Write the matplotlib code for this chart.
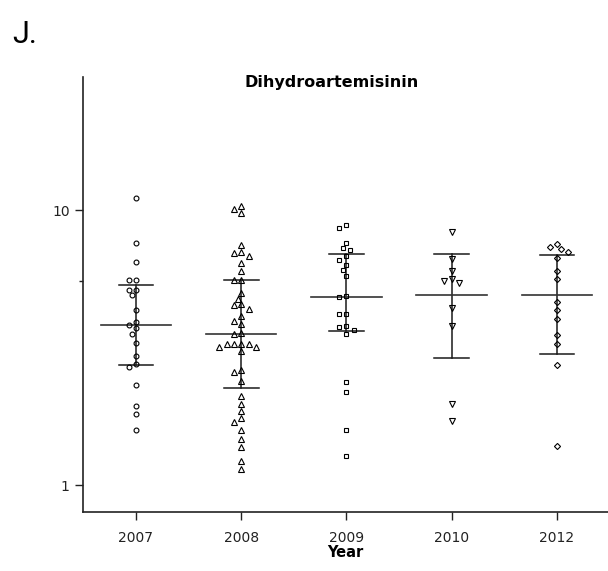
import numpy as np
import matplotlib
matplotlib.use("Agg")
import matplotlib.pyplot as plt
from matplotlib.ticker import FixedLocator, NullFormatter

# ---------------- data ----------------
years = ["2007", "2008", "2009", "2010", "2012"]

v2007 = [11.1, 7.6, 6.49, 5.56, 5.56, 5.12, 5.12, 4.91, 4.32, 3.91, 3.83,
         3.71, 3.53, 3.28, 2.94, 2.75, 2.69, 2.31, 1.94, 1.82, 1.585]
v2008 = [10.37, 10.06, 9.73, 7.46, 7.05, 6.99, 6.82, 6.40, 6.01, 5.56, 5.56,
         4.98, 4.75, 4.55, 4.50, 4.38, 4.12, 3.96, 3.85, 3.58, 3.54, 3.27,
         3.27, 3.27, 3.27, 3.18, 3.17, 3.06, 2.62, 2.58, 2.39, 2.11, 1.97,
         1.86, 1.76, 1.69, 1.58, 1.47, 1.37, 1.22, 1.14]
v2009 = [8.84, 8.58, 7.61, 7.28, 7.16, 6.82, 6.58, 6.31, 6.05, 5.75, 4.86,
         4.82, 4.18, 4.18, 3.79, 3.75, 3.66, 3.54, 2.36, 2.18, 1.59, 1.27]
v2010 = [8.30, 6.65, 6.01, 5.63, 5.52, 5.41, 4.41, 3.79, 1.97, 1.71]
v2012 = [7.52, 7.32, 7.21, 7.05, 6.71, 6.01, 5.61, 4.64, 4.32, 4.01, 3.50,
         3.25, 2.73, 1.39]
series = [v2007, v2008, v2009, v2010, v2012]

# summary lines (centre line and error bar ends)
center = [3.83, 3.54, 4.84, 4.91, 4.92]
lower = [2.73, 2.26, 3.63, 2.89, 2.99]
upper = [5.35, 5.56, 6.90, 6.93, 6.88]

markers = ["o", "^", "s", "v", "D"]
msizes = [3.5, 4.1, 3.4, 4.1, 3.1]

# ---------------- figure ----------------
W, H = 608, 571
fig = plt.figure(figsize=(W / 100, H / 100), dpi=100)
ax = fig.add_axes([83 / W, (H - 512) / H, 525 / W, 435 / H])

ax.set_yscale("log")
ax.set_xlim(-0.5036, 4.485)
ax.set_ylim(0.798, 30.45)

# geometry used for the swarm layout (pixels)
px_per_unit = 105.25
px_per_decade = 276.4
step = 3.65      # half marker spacing in px
coll = 6.1       # collision distance in px


def swarm_offsets(vals):
    ys = np.log10(np.asarray(vals, float)) * px_per_decade
    order = np.argsort(-ys)
    placed = []
    offs = np.zeros(len(vals))
    cands = [0]
    for k in range(1, 12):
        cands += [-k, k]
    for i in order:
        for k in cands:
            x = k * step
            ok = all((x - px) ** 2 + (ys[i] - py) ** 2 >= coll ** 2 for px, py in placed)
            if ok:
                offs[i] = x
                placed.append((x, ys[i]))
                break
    return offs / px_per_unit


lc = "#1a1a1a"
for i, vals in enumerate(series):
    offs = swarm_offsets(vals)
    # error bar
    ax.plot([i, i], [lower[i], upper[i]], color=lc, lw=1.1, zorder=2)
    ax.plot([i - 0.165, i + 0.165], [upper[i], upper[i]], color=lc, lw=1.1, zorder=2)
    ax.plot([i - 0.165, i + 0.165], [lower[i], lower[i]], color=lc, lw=1.1, zorder=2)
    ax.plot([i - 0.335, i + 0.335], [center[i], center[i]], color="#333333", lw=1.2, zorder=2)
    ax.plot(i + offs, vals, linestyle="none", marker=markers[i], ms=msizes[i],
            mfc="none", mec="black", mew=0.8, zorder=3)

# axes styling
for s in ["top", "right"]:
    ax.spines[s].set_visible(False)
for s in ["left", "bottom"]:
    ax.spines[s].set_linewidth(1.2)
    ax.spines[s].set_color("#222222")

ax.set_xticks(range(len(years)))
ax.set_xticklabels(years)
ax.yaxis.set_major_locator(FixedLocator([1, 10]))
ax.set_yticklabels(["1", "10"])
ax.yaxis.set_minor_locator(FixedLocator([5.5]))
ax.yaxis.set_minor_formatter(NullFormatter())
ax.tick_params(axis="x", which="major", direction="out", length=6, width=1.0,
               pad=8, labelsize=10, colors="#222222")
ax.tick_params(axis="y", which="major", direction="out", length=5.5, width=1.0,
               pad=4, labelsize=10, colors="#222222")
ax.tick_params(axis="y", which="minor", direction="out", length=3, width=1.0,
               colors="#222222")
for lab in ax.get_xticklabels() + ax.get_yticklabels():
    lab.set_family("DejaVu Sans")
    lab.set_color("#222222")

ax.set_xlabel("Year", fontsize=10.5, fontweight="bold", family="DejaVu Sans")
ax.xaxis.set_label_coords(0.5, -0.092)
ax.xaxis.label.set_va("center")

ax.text((332 - 83) / 525, (512 - 87) / 435, "Dihydroartemisinin", transform=ax.transAxes,
        ha="center", va="baseline", fontsize=11.5, fontweight="bold", family="DejaVu Sans")

fig.text(12 / W, 1 - 43 / H, "J.", ha="left", va="baseline", fontsize=22,
         family=["Roboto", "DejaVu Sans"])

fig.savefig("out.png", dpi=100)
